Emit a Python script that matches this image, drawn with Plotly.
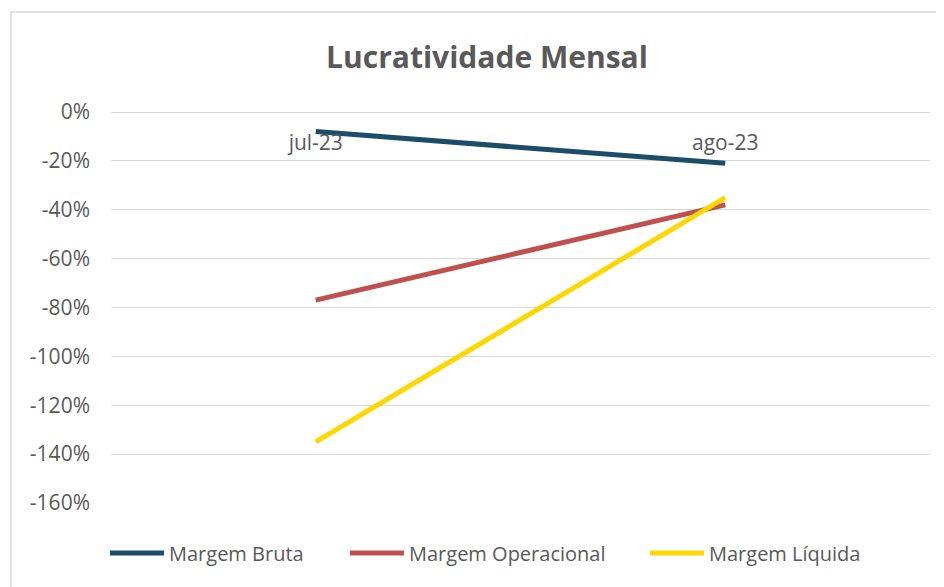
import plotly.graph_objects as go

categories = ["jul-23", "ago-23"]
margem_bruta = [-8, -21]
margem_operacional = [-77, -38]
margem_liquida = [-135, -35]
y_ticks = [0, -20, -40, -60, -80, -100, -120, -140, -160]
y_tick_labels = ["0%", "-20%", "-40%", "-60%", "-80%", "-100%", "-120%", "-140%", "-160%"]

series = [
    ("Margem Bruta", margem_bruta, "#1B4D68", "legend", 110),
    ("Margem Operacional", margem_operacional, "#C0504D", "legend2", 350),
    ("Margem Líquida", margem_liquida, "#FFD700", "legend3", 650),
]

# page body has an 8px default margin; compensate
OFF = 8
W, H = 944, 587
L, T = 111 - OFF, 112 - OFF
pw, ph = 819, 391
R, B = W - L - pw, H - T - ph

fig = go.Figure()
for name, vals, color, lg, _ in series:
    fig.add_trace(go.Scatter(
        x=categories, y=vals, mode="lines", name=name, legend=lg,
        line=dict(color=color, width=5),
    ))

legend_y = -((553 - OFF) - (T + ph)) / ph
legend_common = dict(orientation="h", yanchor="middle", y=legend_y, xanchor="left",
                     font=dict(size=20, color="#595959"), itemwidth=54,
                     bgcolor="rgba(0,0,0,0)")
legends = {}
for name, vals, color, lg, xs in series:
    legends[lg] = dict(legend_common, x=((xs - OFF) - L - 5) / pw)

fig.update_layout(
    width=W, height=H,
    margin=dict(l=L, r=R, t=T, b=B),
    paper_bgcolor="white", plot_bgcolor="white",
    font=dict(family="Open Sans, Liberation Sans, sans-serif", color="#595959"),
    title=dict(text="<b>Lucratividade Mensal</b>", x=(487 - OFF) / W, xanchor="center",
               y=1 - (57 - OFF) / H, yanchor="middle", xref="container", yref="container",
               font=dict(size=30, color="#595959")),
    showlegend=True,
    xaxis=dict(
        anchor="free", position=1, side="bottom",
        showgrid=False, showline=False, zeroline=False,
        ticks="outside", ticklen=12, tickcolor="rgba(0,0,0,0)",
        tickfont=dict(size=21, color="#595959"),
        range=[-0.5, 1.5],
    ),
    yaxis=dict(
        range=[-160, 0], tickmode="array", tickvals=y_ticks, ticktext=y_tick_labels,
        showgrid=True, gridcolor="#D9D9D9", gridwidth=1,
        zeroline=True, zerolinecolor="#D9D9D9", zerolinewidth=1,
        showline=False, ticks="", ticklabelstandoff=20,
        tickfont=dict(size=21, color="#595959"),
    ),
    **legends,
)

# light chart-area border (left and top visible)
fig.add_shape(type="rect", xref="paper", yref="paper",
              x0=((11 - OFF) - L) / pw, x1=(W + 40 - L) / pw,
              y0=-(H + 40 - T - ph) / ph, y1=1 + (T - (12 - OFF)) / ph,
              line=dict(color="#D9D9D9", width=1.5), layer="below")

fig.write_html("out.html")
